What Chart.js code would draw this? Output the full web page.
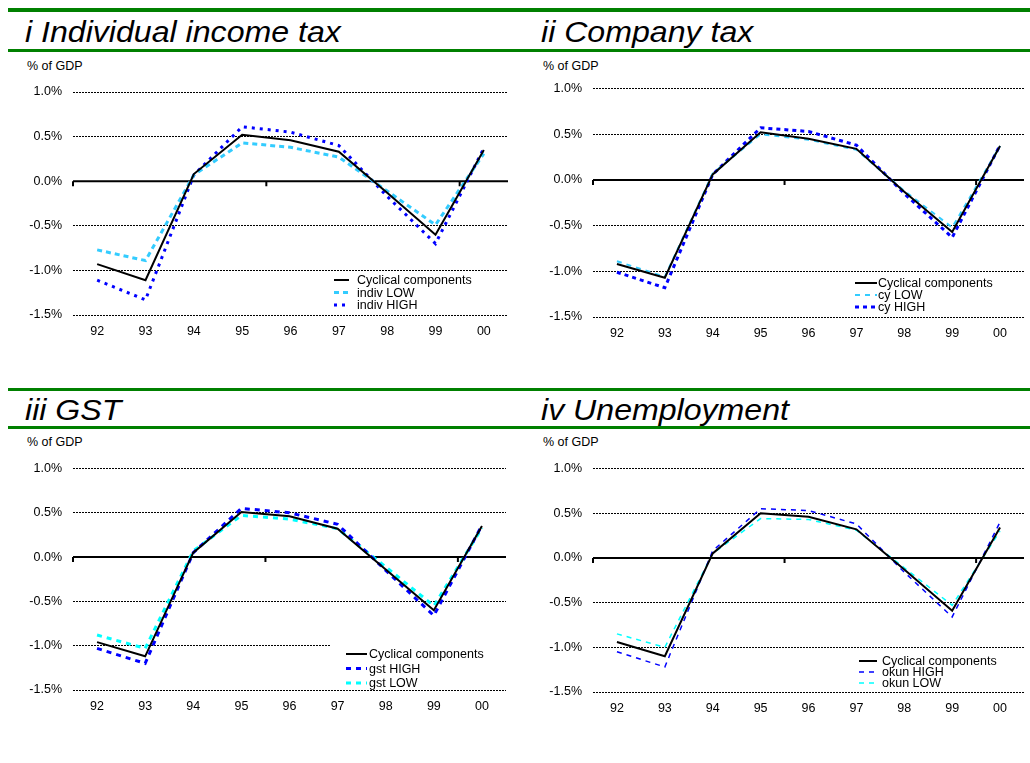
<!DOCTYPE html>
<html>
<head>
<meta charset="utf-8">
<script src="https://cdn.jsdelivr.net/npm/chart.js@4"></script>
<style>
  body { margin:0; background:#fff; width:1030px; height:763px; position:relative; overflow:hidden;
         font-family: Arial, "Liberation Sans", sans-serif; }
  .bar { position:absolute; background:#008000; left:8px; width:1022px; }
  .title { position:absolute; font-style:italic; font-size:30px; line-height:30px; color:#000; white-space:nowrap;
           transform: scaleX(1.07); transform-origin: left top; }
  .unit { position:absolute; font-size:12.5px; line-height:12px; color:#000; }
  canvas { position:absolute; }
</style>
</head>
<body>
<div class="bar" style="top:8px;height:4px"></div>
<div class="bar" style="top:49px;height:3px"></div>
<div class="bar" style="top:388px;height:3px"></div>
<div class="bar" style="top:426px;height:3px"></div>

<div class="title" style="left:25px;top:17px">i Individual income tax</div>
<div class="title" style="left:541px;top:17px">ii Company tax</div>
<div class="title" style="left:25px;top:395px">iii GST</div>
<div class="title" style="left:541px;top:395px">iv Unemployment</div>

<div class="unit" style="left:27px;top:60px">% of GDP</div>
<div class="unit" style="left:543px;top:60px">% of GDP</div>
<div class="unit" style="left:27px;top:436px">% of GDP</div>
<div class="unit" style="left:543px;top:436px">% of GDP</div>

<canvas id="c1" width="515" height="275" style="left:0;top:70px"></canvas>
<canvas id="c2" width="515" height="277" style="left:515px;top:70px"></canvas>
<canvas id="c3" width="515" height="270" style="left:0;top:450px"></canvas>
<canvas id="c4" width="515" height="272" style="left:515px;top:450px"></canvas>

<script>
// years on the x axis
const years = ['92', '93', '94', '95', '96', '97', '98', '99', '00'];
// y axis range, % of GDP
const yMin = -1.5;
const yMax = 1.0;
const yStep = 0.5;

// i Individual income tax
const indivCyc  = [-0.93, -1.11, 0.08, 0.52, 0.46, 0.33, -0.13, -0.60, 0.35];
const indivLow  = [-0.77, -0.89, 0.07, 0.43, 0.38, 0.27, -0.11, -0.49, 0.31];
const indivHigh = [-1.11, -1.33, 0.07, 0.61, 0.55, 0.40, -0.17, -0.70, 0.37];

// ii Company tax
const cyCyc  = [-0.92, -1.07, 0.06, 0.52, 0.45, 0.34, -0.13, -0.57, 0.37];
const cyLow  = [-0.89, -1.06, 0.07, 0.50, 0.44, 0.33, -0.12, -0.52, 0.37];
const cyHigh = [-1.01, -1.18, 0.06, 0.57, 0.53, 0.38, -0.15, -0.63, 0.38];

// iii GST
const gstCyc  = [-0.96, -1.12, 0.05, 0.51, 0.46, 0.32, -0.14, -0.60, 0.35];
const gstHigh = [-1.03, -1.20, 0.05, 0.55, 0.50, 0.37, -0.15, -0.66, 0.36];
const gstLow  = [-0.88, -1.03, 0.07, 0.47, 0.43, 0.32, -0.11, -0.55, 0.33];

// iv Unemployment
const okunCyc  = [-0.94, -1.10, 0.05, 0.50, 0.46, 0.32, -0.13, -0.59, 0.34];
const okunHigh = [-1.05, -1.22, 0.08, 0.55, 0.53, 0.38, -0.16, -0.66, 0.40];
const okunLow  = [-0.85, -1.00, 0.05, 0.44, 0.43, 0.31, -0.11, -0.53, 0.30];

const FONT = 'Arial, "Liberation Sans", sans-serif';

// solid zero line plus little ticks every 4 years
const zeroLine = {
  id: 'zeroLine',
  beforeDatasetsDraw(chart) {
    const ctx = chart.ctx, area = chart.chartArea;
    const y = chart.scales.y.getPixelForValue(0);
    const n = chart.data.labels.length;
    const step = (area.right - area.left) / n;
    ctx.save();
    ctx.strokeStyle = '#000';
    ctx.lineWidth = 2;
    ctx.beginPath();
    ctx.moveTo(area.left, y);
    ctx.lineTo(area.right, y);
    for (let i = 0; i < n; i += 4) {
      const x = area.left + i * step;
      ctx.moveTo(x, y);
      ctx.lineTo(x, y + 5);
    }
    ctx.stroke();
    ctx.restore();
  }
};

// legend drawn inside the plot like the excel one
const boxLegend = {
  id: 'boxLegend',
  afterDatasetsDraw(chart, args, opts) {
    const ctx = chart.ctx;
    ctx.save();
    if (opts.box) {
      ctx.fillStyle = '#fff';
      ctx.fillRect(opts.box[0], opts.box[1], opts.box[2], opts.box[3]);
    }
    chart.data.datasets.forEach(function(ds, i) {
      const y = opts.y + i * opts.gap;
      ctx.strokeStyle = ds.borderColor;
      ctx.lineWidth = ds.borderWidth;
      ctx.setLineDash(ds.borderDash || []);
      ctx.beginPath();
      ctx.moveTo(opts.x, y);
      ctx.lineTo(opts.x + opts.w, y);
      ctx.stroke();
      ctx.setLineDash([]);
      ctx.fillStyle = '#000';
      ctx.font = '12.5px ' + FONT;
      ctx.textBaseline = 'middle';
      ctx.fillText(ds.label, opts.textX, y + 1);
    });
    ctx.restore();
  }
};

function makeChart(id, sets, pad, yWidth, legend) {
  const ctx = document.getElementById(id).getContext('2d');
  return new Chart(ctx, {
    type: 'line',
    data: {
      labels: years,
      datasets: sets.map(function(s) {
        return {
          label: s.label,
          data: s.data,
          borderColor: s.color,
          borderWidth: s.width,
          borderDash: s.dash,
          pointRadius: 0,
          tension: 0,
          fill: false
        };
      })
    },
    options: {
      responsive: false,
      animation: false,
      layout: { padding: pad },
      plugins: {
        legend: { display: false },
        tooltip: { enabled: false },
        boxLegend: legend
      },
      scales: {
        x: {
          offset: true,
          grid: { display: false },
          border: { display: false },
          ticks: { color: '#000', font: { family: FONT, size: 12.5 }, padding: 1, maxRotation: 0 },
          afterFit: function(scale) { scale.height = 30; }
        },
        y: {
          min: yMin,
          max: yMax,
          grid: {
            drawTicks: false,
            lineWidth: 1,
            color: function(c) { return c.tick && c.tick.value === 0 ? 'rgba(0,0,0,0)' : '#000'; }
          },
          border: { display: false, dash: [2, 1] },
          ticks: {
            stepSize: yStep,
            color: '#000',
            font: { family: FONT, size: 12.5 },
            padding: 11,
            callback: function(v) { return v.toFixed(1) + '%'; }
          },
          afterFit: function(scale) { scale.width = yWidth; }
        }
      }
    },
    plugins: [zeroLine, boxLegend]
  });
}

const black = '#000000', blue = '#0000FF', sky = '#33CCFF', aqua = '#00FFFF';

makeChart('c1', [
  { label: 'Cyclical components', data: indivCyc, color: black, width: 2, dash: [] },
  { label: 'indiv LOW', data: indivLow, color: sky, width: 3, dash: [5, 4] },
  { label: 'indiv HIGH', data: indivHigh, color: blue, width: 3, dash: [3, 5] }
], { left: 0, right: 7, top: 22, bottom: 0 }, 73,
  { x: 334, w: 15, textX: 357, y: 210, gap: 12.5 });

makeChart('c2', [
  { label: 'Cyclical components', data: cyCyc, color: black, width: 2, dash: [] },
  { label: 'cy LOW', data: cyLow, color: sky, width: 2, dash: [5, 5] },
  { label: 'cy HIGH', data: cyHigh, color: blue, width: 3, dash: [4, 4] }
], { left: 0, right: 6, top: 14, bottom: 0 }, 78,
  { x: 340, w: 22, textX: 363, y: 213, gap: 12 });

makeChart('c3', [
  { label: 'Cyclical components', data: gstCyc, color: black, width: 2, dash: [] },
  { label: 'gst HIGH', data: gstHigh, color: blue, width: 3, dash: [5, 5] },
  { label: 'gst LOW', data: gstLow, color: aqua, width: 3, dash: [5, 5] }
], { left: 0, right: 9, top: 17, bottom: 0 }, 73,
  { x: 346, w: 21, textX: 369, y: 204, gap: 14.5, box: [330, 190, 180, 48] });

makeChart('c4', [
  { label: 'Cyclical components', data: okunCyc, color: black, width: 2, dash: [] },
  { label: 'okun HIGH', data: okunHigh, color: blue, width: 1.5, dash: [5, 5] },
  { label: 'okun LOW', data: okunLow, color: aqua, width: 1.5, dash: [5, 5] }
], { left: 0, right: 6, top: 17, bottom: 0 }, 78,
  { x: 344, w: 18, textX: 367, y: 211, gap: 11 });
</script>
</body>
</html>
